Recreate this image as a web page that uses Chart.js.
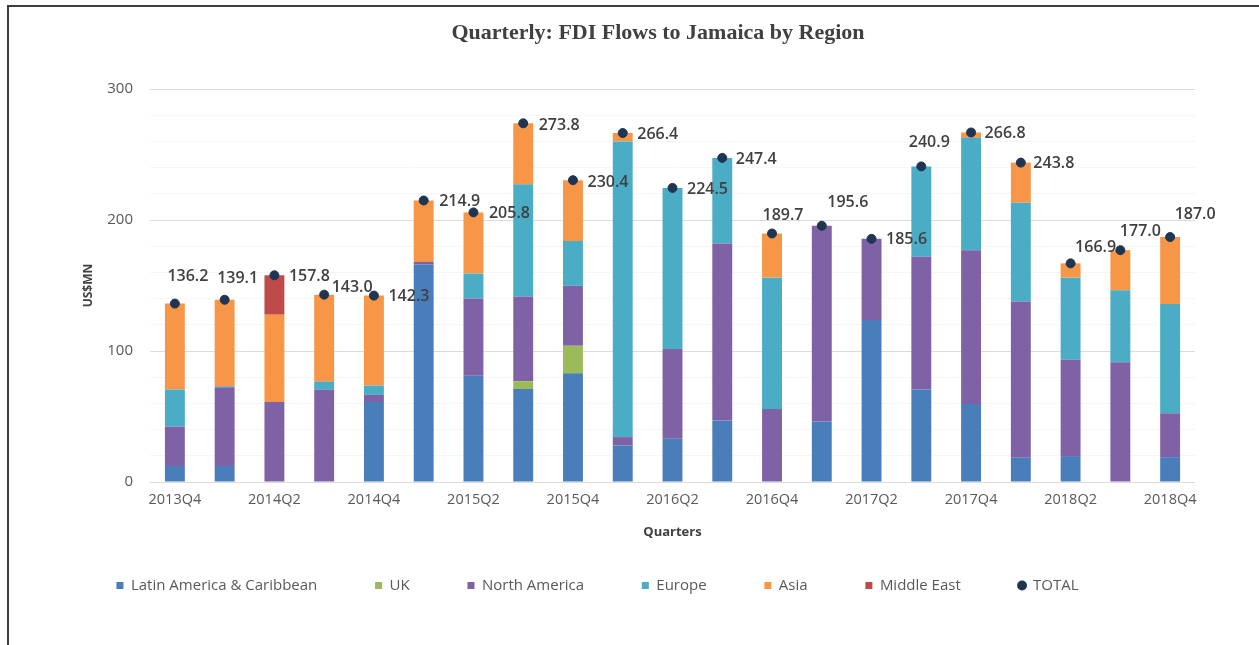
<!DOCTYPE html>
<html>
<head>
<meta charset="utf-8">
<script src="https://cdn.jsdelivr.net/npm/chart.js@4.4.1/dist/chart.umd.min.js"></script>
<style>
  html, body { margin: 0; padding: 0; background: #fff; }
  #wrap { position: relative; width: 1259px; height: 645px; overflow: hidden; }
  #frame { position: absolute; left: 7px; top: 5px; width: 1260px; height: 650px;
           border-top: 2px solid #3d3d3d; border-left: 2px solid #3d3d3d; pointer-events: none; }
  canvas { position: absolute; left: 0; top: 0; }
</style>
</head>
<body>
<div id="wrap">
  <canvas id="c" width="1259" height="645"></canvas>
  <div id="frame"></div>
</div>
<script>
const categories = ['2013Q4','2014Q1','2014Q2','2014Q3','2014Q4','2015Q1','2015Q2','2015Q3','2015Q4','2016Q1','2016Q2','2016Q3','2016Q4','2017Q1','2017Q2','2017Q3','2017Q4','2018Q1','2018Q2','2018Q3','2018Q4'];
const latinAmerica = [12.2, 12.2, 0, 0, 61, 166, 81.2, 71, 83, 27.9, 33, 47, 0, 46.2, 123.6, 70.6, 59.6, 18.5, 19.8, 0, 19];
const uk           = [0, 0, 0, 0, 0, 0, 0, 5.9, 21, 0, 0, 0, 0, 0, 0, 0, 0, 0, 0, 0, 0];
const northAmerica = [30, 60.1, 61, 70.3, 5.5, 2, 58.9, 64.7, 45.7, 6.4, 68.5, 135, 55.8, 149.4, 62, 101.4, 117.4, 119.3, 73.6, 91.4, 33.5];
const europe       = [28.4, 0.8, 0, 6.3, 7.1, 0, 19, 85.6, 34.3, 225.7, 123, 65.4, 100.2, 0, 0, 68.9, 85.7, 75.4, 62.6, 55, 83.3];
const asia         = [65.6, 66, 66.7, 66.4, 68.7, 46.9, 46.7, 46.6, 46.4, 6.4, 0, 0, 33.7, 0, 0, 0, 4.1, 30.6, 10.9, 30.6, 51.2];
const middleEast   = [0, 0, 30.1, 0, 0, 0, 0, 0, 0, 0, 0, 0, 0, 0, 0, 0, 0, 0, 0, 0, 0];
const totals       = [136.2, 139.1, 157.8, 143.0, 142.3, 214.9, 205.8, 273.8, 230.4, 266.4, 224.5, 247.4, 189.7, 195.6, 185.6, 240.9, 266.8, 243.8, 166.9, 177.0, 187.0];
const yTickValues  = [0, 50, 100, 150, 200, 250, 300];

// label placement (offset of text centre from the TOTAL marker)
const labelDx = [13, 13, 35, 28, 35, 36, 36, 36, 35, 35, 35, 34, 11, 26, 35, 8, 34, 33, 25, 20, 25];
const labelDy = [-27, -21, 1, -7, 1, 1, 1, 2, 2, 1, 2, 2, -18, -23, 1, -24, 1, 1, -16, -19, -23];

const FONT = '"Open Sans", "Noto Sans", sans-serif';

const totalLabels = {
  id: 'totalLabels',
  afterDatasetsDraw(chart) {
    const idx = chart.data.datasets.findIndex(d => d.label === 'TOTAL');
    const meta = chart.getDatasetMeta(idx);
    const ctx = chart.ctx;
    ctx.save();
    ctx.font = '600 16px ' + FONT;
    ctx.fillStyle = '#404040';
    ctx.textAlign = 'center';
    ctx.textBaseline = 'middle';
    meta.data.forEach((pt, i) => {
      ctx.fillText(totals[i].toFixed(1), pt.x + labelDx[i], pt.y + labelDy[i]);
    });
    ctx.restore();
  }
};

const chartTitle = {
  id: 'chartTitle',
  afterDraw(chart) {
    const ctx = chart.ctx;
    ctx.save();
    ctx.font = 'bold 22px "Liberation Serif", "DejaVu Serif", serif';
    ctx.fillStyle = '#404040';
    ctx.textAlign = 'center';
    ctx.textBaseline = 'middle';
    ctx.fillText('Quarterly: FDI Flows to Jamaica by Region', 658, 33);
    ctx.restore();
  }
};

const gap = ' '.repeat(12);
const barSeries = [
  ['Latin America & Caribbean', latinAmerica, '#4a7ebb'],
  ['UK', uk, '#9bbb59'],
  ['North America', northAmerica, '#7f62a6'],
  ['Europe', europe, '#4bacc6'],
  ['Asia', asia, '#f79646'],
  ['Middle East', middleEast, '#be4b48']
];

const datasets = barSeries.map(([label, data, color]) => ({
  type: 'bar', label, data, backgroundColor: color, borderWidth: 0,
  stack: 'regions', barPercentage: 0.8, categoryPercentage: 0.5, order: 1,
  pointStyle: 'rect'
}));
datasets.push({
  type: 'line', label: 'TOTAL', data: totals, showLine: false, stack: 'total',
  pointRadius: 4.5, pointBackgroundColor: '#1f3552', pointBorderColor: '#1f3552',
  backgroundColor: '#1f3552', borderColor: '#1f3552', pointStyle: 'circle', order: 0
});

new Chart(document.getElementById('c'), {
  data: { labels: categories, datasets },
  options: {
    responsive: false,
    animation: false,
    layout: { padding: { left: 0, right: 64, top: 89, bottom: 42 } },
    plugins: {
      title: { display: false },
      tooltip: { enabled: false },
      legend: {
        position: 'bottom',
        labels: {
          usePointStyle: true,
          boxWidth: 7, boxHeight: 7,
          padding: 11,
          color: '#595959',
          font: { family: FONT, size: 15 },
          generateLabels(chart) {
            const items = Chart.defaults.plugins.legend.labels.generateLabels(chart)
              .sort((a, b) => a.datasetIndex - b.datasetIndex);
            items.forEach((it, i) => {
              it.lineWidth = 0;
              if (i < items.length - 1) it.text = it.text + gap;
            });
            return items;
          }
        }
      }
    },
    scales: {
      x: {
        stacked: true,
        grid: { display: false, drawTicks: false },
        border: { display: false },
        ticks: {
          autoSkip: false, maxRotation: 0, padding: 9,
          color: '#595959', font: { family: FONT, size: 14.5 },
          callback(v, i) { return i % 2 === 0 ? categories[i] : ''; }
        },
        title: {
          display: true, text: 'Quarters', color: '#404040',
          font: { family: FONT, size: 13, weight: 'bold' },
          padding: { top: 0, bottom: 27 }
        },
        afterFit(scale) { scale.height = 85; }
      },
      y: {
        stacked: true,
        min: 0, max: 300,
        border: { display: false },
        grid: {
          drawTicks: false,
          color(c) { return yTickValues.includes(c.tick.value) ? '#dcdcdc' : '#f6f6f6'; },
          lineWidth: 1
        },
        ticks: {
          stepSize: 10, padding: 17,
          color: '#595959', font: { family: FONT, size: 15 },
          callback(v) { return yTickValues.includes(v) ? v : ''; }
        },
        title: {
          display: true, text: 'US$MN', color: '#404040',
          font: { family: FONT, size: 12, weight: 'bold' },
          padding: { top: 81, bottom: 0 }
        },
        afterFit(scale) { scale.width = 150; }
      }
    }
  },
  plugins: [totalLabels, chartTitle]
});
</script>
</body>
</html>
